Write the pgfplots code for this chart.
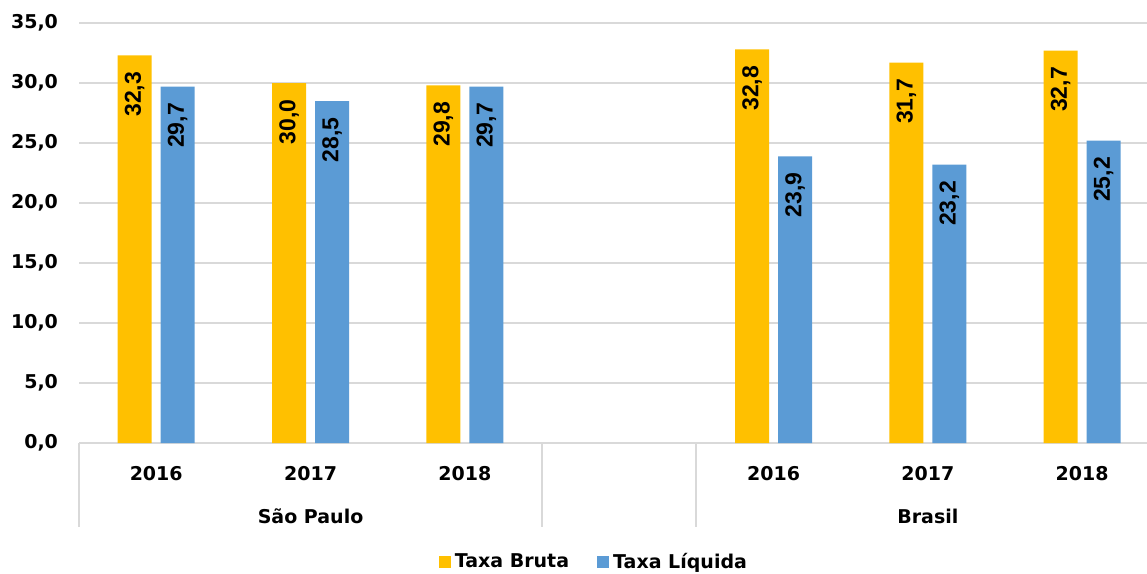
\documentclass[border=0pt]{standalone}
\usepackage{fontspec}
\setmainfont{DejaVu Sans}
\newfontfamily\lab{Liberation Sans}
\usepackage{pgfplots}
\pgfplotsset{compat=1.18}
\definecolor{bruta}{HTML}{FFC000}
\definecolor{liquida}{HTML}{5B9BD5}
\definecolor{grade}{HTML}{D9D9D9}

\begin{document}
\begin{tikzpicture}
\begin{axis}[
    scale only axis,
    width=533.7pt, height=210pt,
    ybar=4.5pt, bar width=17pt,
    xmin=-0.5, xmax=6.42, ymin=0, ymax=35,
    clip=false,
    axis line style={draw=none},
    tick style={draw=none},
    ytick={0,5,...,35},
    ymajorgrids,
    grid style={grade, line width=1pt},
    xtick={0,1,2,4,5,6},
    xticklabels={2016,2017,2018,2016,2017,2018},
    tick label style={font=\bfseries\fontsize{9.5}{11}\selectfont},
    yticklabel style={xshift=-7pt, /pgf/number format/.cd, fixed, fixed zerofill, precision=1, use comma, assume math mode=true},
    xticklabel style={yshift=-4pt},
    nodes near coords,
    every node near coord/.append style={yshift=-8pt, rotate=90, anchor=east, inner sep=0pt,
        font=\lab\bfseries\fontsize{11.5}{12}\selectfont, text=black,
        /pgf/number format/.cd, fixed, fixed zerofill, precision=1, use comma, assume math mode=true},
    legend style={at={(0.483,-0.283)}, anchor=center, draw=none, legend columns=2,
        font=\bfseries\fontsize{9.5}{11}\selectfont,
        /tikz/every even column/.append style={column sep=12pt}},
    legend image code/.code={\fill[#1] (0pt,-3pt) rectangle (6pt,3pt);},
]
\addplot[fill=bruta, draw=none] coordinates {(0,32.3) (1,30.0) (2,29.8) (4,32.8) (5,31.7) (6,32.7)};
\addplot[fill=liquida, draw=none] coordinates {(0,29.7) (1,28.5) (2,29.7) (4,23.9) (5,23.2) (6,25.2)};
\legend{Taxa Bruta, Taxa Líquida}

\draw[grade, line width=1pt] (axis cs:-0.5,0) -- ([yshift=-42pt]axis cs:-0.5,0);
\draw[grade, line width=1pt] (axis cs:2.5,0) -- ([yshift=-42pt]axis cs:2.5,0);
\draw[grade, line width=1pt] (axis cs:3.5,0) -- ([yshift=-42pt]axis cs:3.5,0);
\node[font=\bfseries\fontsize{9.5}{11}\selectfont] at ([yshift=-36.5pt]axis cs:1,0) {São Paulo};
\node[font=\bfseries\fontsize{9.5}{11}\selectfont] at ([yshift=-36.5pt]axis cs:5,0) {Brasil};

\coordinate (sw) at (rel axis cs:0,0);
\coordinate (ne) at (rel axis cs:1,1);
\end{axis}
\pgfresetboundingbox
\path ([xshift=-39.5pt,yshift=-65pt]sw) rectangle ([yshift=11.5pt]ne);
\end{tikzpicture}
\end{document}
